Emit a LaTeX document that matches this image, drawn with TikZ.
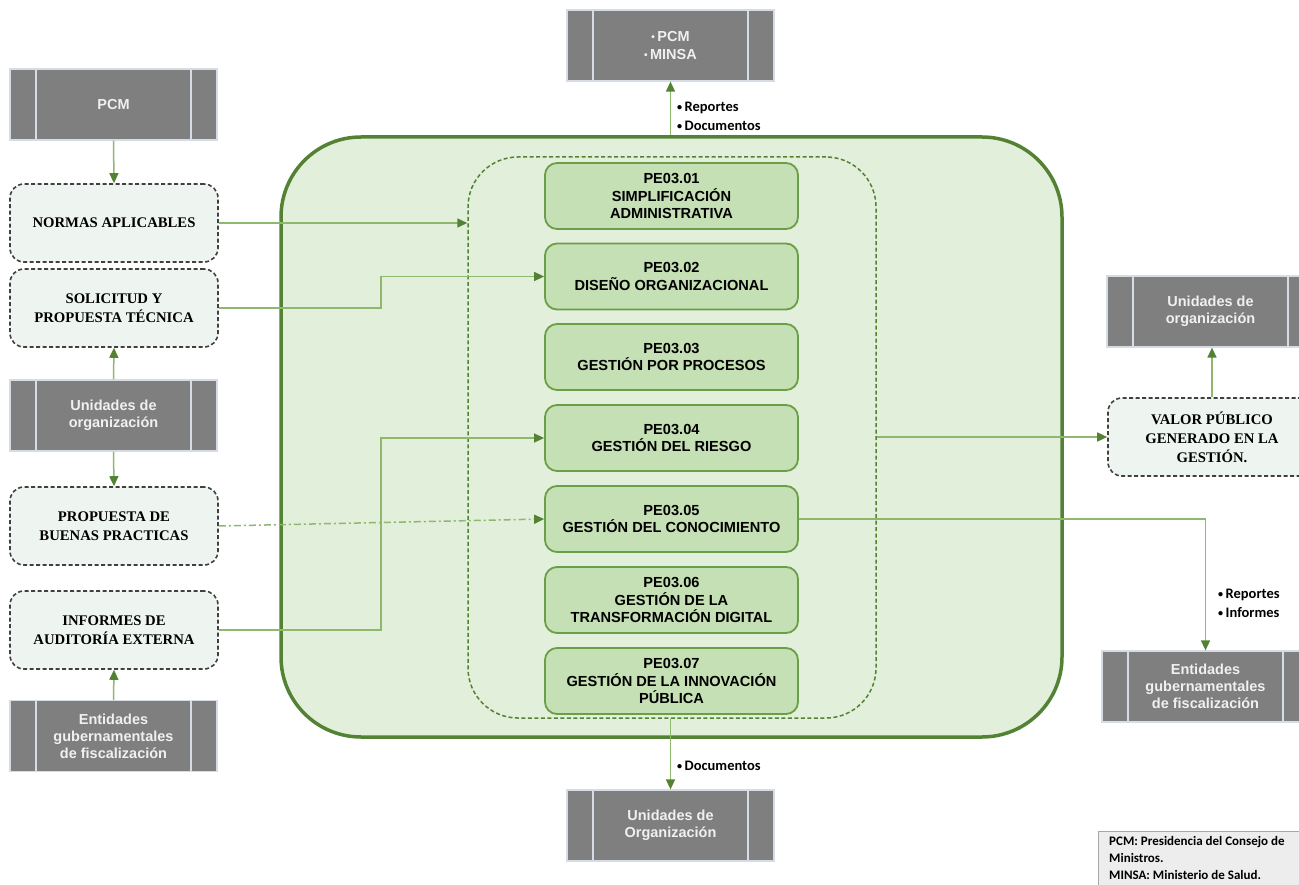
\documentclass[tikz,border=0pt]{standalone}
\usepackage{graphicx}
\usepackage{fontspec}
\setmainfont{Liberation Serif}
\setsansfont{Liberation Sans}
\newfontfamily\calibfont{Carlito}
\usetikzlibrary{arrows.meta}
\definecolor{bigborder}{HTML}{548235}
\definecolor{bigfill}{HTML}{E2EFDA}
\definecolor{pefill}{HTML}{C5E0B4}
\definecolor{peborder}{HTML}{6A9E48}
\definecolor{linec}{HTML}{8DB86E}
\definecolor{arrowc}{HTML}{548235}
\definecolor{grayfill}{HTML}{7F7F7F}
\definecolor{grayedge}{HTML}{D6DCE5}
\definecolor{docfill}{HTML}{EEF5F0}
\definecolor{docedge}{HTML}{404040}
\definecolor{legfill}{HTML}{EDEDED}
\definecolor{legedge}{HTML}{A6A6A6}
\newcommand{\smbul}{\raisebox{0.12ex}{\scalebox{0.7}{•}}}
\begin{document}
\begin{tikzpicture}[x=1pt,y=-1pt,
  graybox/.style={draw=grayedge, line width=1.2pt, fill=grayfill, minimum width=207pt, minimum height=71pt,
    inner sep=0pt, align=center, text=white!88!gray, font=\sffamily\bfseries\fontsize{14.5}{17}\selectfont,
    path picture={
      \draw[grayedge, line width=1.6pt] ([xshift=26pt]path picture bounding box.north west) -- ([xshift=26pt]path picture bounding box.south west);
      \draw[grayedge, line width=1.6pt] ([xshift=-26pt]path picture bounding box.north east) -- ([xshift=-26pt]path picture bounding box.south east);}},
  docbox/.style={draw=docedge, dash pattern=on 4pt off 2.5pt, line width=1.6pt, fill=docfill, rounded corners=14pt,
    minimum width=208pt, minimum height=78pt, inner sep=2pt, align=center, font=\rmfamily\bfseries\fontsize{14.7}{19}\selectfont},
  pebox/.style={draw=peborder, line width=1.8pt, fill=pefill, rounded corners=12pt, minimum width=253pt, minimum height=66pt,
    inner sep=1pt, align=center, font=\sffamily\bfseries\fontsize{14.6}{17.5}\selectfont},
  conn/.style={draw=linec, line width=1.5pt, -{Triangle[length=10pt,width=9pt,fill=arrowc,color=arrowc]}},
  lbl/.style={anchor=west, align=left, inner sep=0pt, font=\calibfont\bfseries\fontsize{14.5}{19}\selectfont}
]
\useasboundingbox (0,0) rectangle (1299,885);

% main container
\node[draw=bigborder, line width=3.5pt, fill=bigfill, rounded corners=80pt, minimum width=781pt, minimum height=600pt, inner sep=0pt] (big) at (671.5,437) {};
\node[draw=bigborder, line width=1.5pt, dash pattern=on 4pt off 2.5pt, rounded corners=50pt, minimum width=408pt, minimum height=561pt, inner sep=0pt] (inner) at (672,437.5) {};

% central process boxes
\node[pebox] (pe1) at (671.5,196) {PE03.01\\SIMPLIFICACIÓN\\ADMINISTRATIVA};
\node[pebox] (pe2) at (671.5,276.5) {PE03.02\\DISEÑO ORGANIZACIONAL};
\node[pebox] (pe3) at (671.5,357) {PE03.03\\GESTIÓN POR PROCESOS};
\node[pebox] (pe4) at (671.5,438) {PE03.04\\GESTIÓN DEL RIESGO};
\node[pebox] (pe5) at (671.5,519) {PE03.05\\GESTIÓN DEL CONOCIMIENTO};
\node[pebox] (pe6) at (671.5,600) {PE03.06\\GESTIÓN DE LA\\TRANSFORMACIÓN DIGITAL};
\node[pebox] (pe7) at (671.5,681) {PE03.07\\GESTIÓN DE LA INNOVACIÓN\\PÚBLICA};

% gray boxes
\node[graybox] (pcm) at (113.5,104.5) {PCM};
\node[graybox] (unil) at (113.5,415.5) {Unidades de\\organización};
\node[graybox] (entl) at (113.5,736) {Entidades\\gubernamentales\\de fiscalización};
\node[graybox, font=\sffamily\bfseries\fontsize{14.5}{18}\selectfont] (top) at (670.5,45.5) {\smbul\,PCM\\\smbul\,MINSA};
\node[graybox] (bot) at (670.5,825.5) {Unidades de\\Organización};
\node[graybox] (unir) at (1210.5,311.5) {Unidades de\\organización};
\node[graybox] (entr) at (1205.5,686.5) {Entidades\\gubernamentales\\de fiscalización};

% document boxes
\node[docbox] (normas) at (114,223) {NORMAS APLICABLES};
\node[docbox] (solic) at (114,308) {SOLICITUD Y\\PROPUESTA TÉCNICA};
\node[docbox] (prop) at (114,526) {PROPUESTA DE\\BUENAS PRACTICAS};
\node[docbox] (inf) at (114,630) {INFORMES DE\\AUDITORÍA EXTERNA};
\node[docbox] (valor) at (1212,437) {VALOR PÚBLICO\\GENERADO EN LA\\GESTIÓN.};

% legend
\node[draw=legedge, line width=1pt, fill=legfill, minimum width=215pt, minimum height=70pt, inner sep=0pt] (legbox) at (1205.5,866) {};
\node[anchor=north west, align=left, inner sep=0pt, font=\calibfont\bfseries\fontsize{13}{17}\selectfont] (legtext) at (1109,836)
  {PCM: Presidencia del Consejo de\\Ministros.\\MINSA: Ministerio de Salud.};

% connectors
\coordinate (jx) at (381,0);
\draw[conn] (pcm.south) -- (normas.north);
\draw[conn] (unil.north) -- (solic.south);
\draw[conn] (unil.south) -- (prop.north);
\draw[conn] (entl.north) -- (inf.south);
\draw[conn] (normas.east) -- (normas.east -| inner.west);
\draw[conn] (solic.east) -- (solic.east -| jx) |- (pe2.west);
\draw[conn] (inf.east) -- (inf.east -| jx) |- (pe4.west);
\draw[conn, dash pattern=on 7pt off 3pt on 2pt off 3pt] (prop.east) -- (pe5.west);
\draw[conn] (inner.east |- valor.west) -- (valor.west);
\draw[conn] (valor.north) -- (valor.north |- unir.south);
\draw[conn] (pe5.east) -| (entr.north);
\draw[conn] (top.south |- big.north) -- (top.south);
\draw[conn] (bot.north |- inner.south) -- (bot.north);

% labels
\node[lbl] (lbltop) at (677,116.5) {\smbul\,Reportes\\\smbul\,Documentos};
\node[lbl] (lblright) at (1218,603) {\smbul\,Reportes\\\smbul\,Informes};
\node[lbl] (lblbot) at (677,766) {\smbul\,Documentos};
\end{tikzpicture}
\end{document}
